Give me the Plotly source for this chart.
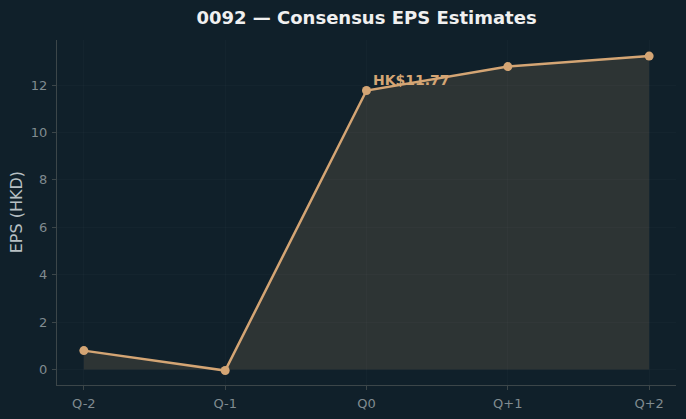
import plotly.graph_objects as go

quarters = ["Q-2", "Q-1", "Q0", "Q+1", "Q+2"]
eps = [0.80, -0.04, 11.77, 12.78, 13.22]
ytick_vals = [0, 2, 4, 6, 8, 10, 12]

bg = "#10202a"
line_col = "#d4a574"

fig = go.Figure()
fig.add_trace(go.Scatter(
    x=list(range(len(quarters))), y=eps, mode="lines+markers",
    line=dict(color=line_col, width=2.5),
    marker=dict(size=9, color=line_col),
    fill="tozeroy", fillcolor="rgba(212,165,116,0.15)",
    showlegend=False,
))
fig.add_annotation(
    x=2, y=eps[2], text="<b>HK$%.2f</b>" % eps[2], showarrow=False,
    xanchor="left", yanchor="bottom", xshift=4, yshift=1,
    font=dict(family="DejaVu Sans", size=14, color=line_col),
)
fig.add_annotation(
    xref="paper", yref="paper", x=-0.065, y=0.5, text="EPS (HKD)",
    textangle=-90, showarrow=False, xanchor="center", yanchor="middle",
    font=dict(family="DejaVu Sans", size=16, color="#b8c0c4"),
)
fig.update_layout(
    width=686, height=419,
    paper_bgcolor=bg, plot_bgcolor=bg,
    margin=dict(l=57, r=10, t=40, b=34),
    font=dict(family="DejaVu Sans", color="#808b90"),
    title=dict(text="<b>0092 — Consensus EPS Estimates</b>", x=0.5, xref="paper",
               y=1 - 18 / 419, yref="container", yanchor="middle",
               font=dict(size=18, color="#f0f0f0", family="DejaVu Sans")),
)
fig.update_xaxes(
    tickmode="array", tickvals=list(range(len(quarters))), ticktext=quarters,
    range=[-0.19, 4.19], showline=True, linecolor="#3c4649", linewidth=1,
    ticks="outside", ticklen=4, tickcolor="#3c4649", automargin=False,
    ticklabelstandoff=2,
    showgrid=True, gridcolor="rgba(255,255,255,0.02)", zeroline=False,
    tickfont=dict(size=13, color="#808b90"),
)
fig.update_yaxes(
    tickmode="array", tickvals=ytick_vals,
    range=[-0.65, 13.9], showline=True, linecolor="#3c4649", linewidth=1,
    ticks="outside", ticklen=4, tickcolor="#3c4649", automargin=False,
    ticklabelstandoff=2,
    showgrid=True, gridcolor="rgba(255,255,255,0.02)", zeroline=False,
    tickfont=dict(size=13, color="#808b90"),
)
fig.write_html("out.html")
